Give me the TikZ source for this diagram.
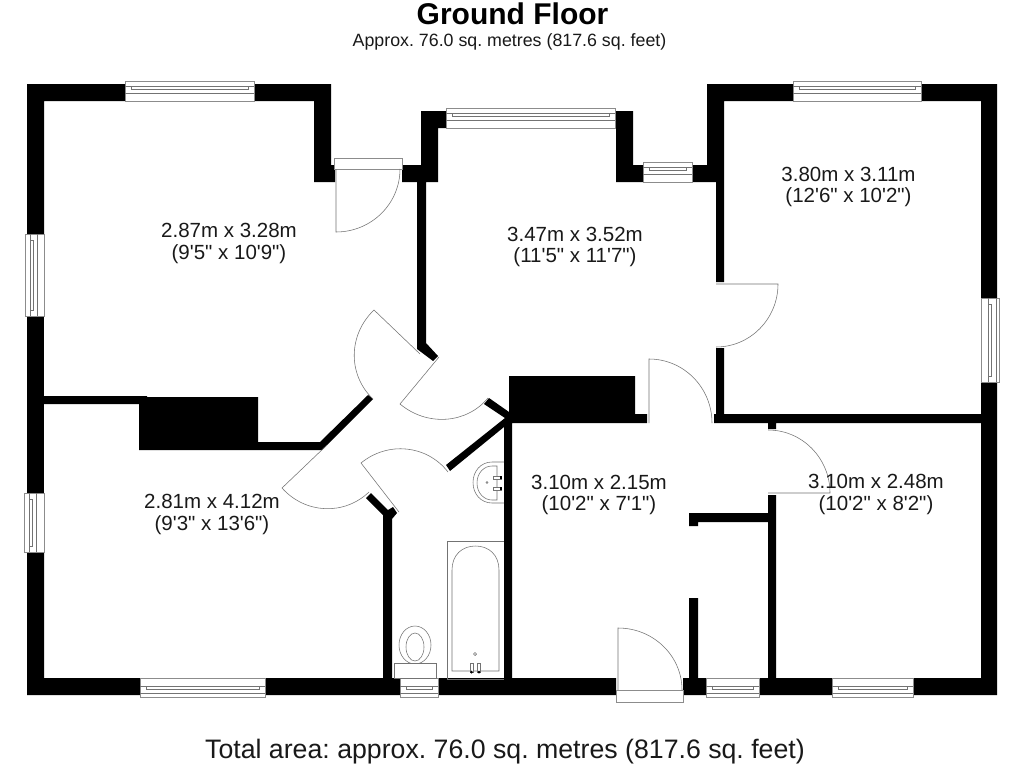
\documentclass[tikz,border=0pt]{standalone}
\usepackage{fontspec}
\setmainfont[Ligatures=TeXOff]{Liberation Sans}
\usetikzlibrary{calc}
\tikzset{
  wall/.style={fill=black,draw=none},
  thin line/.style={draw=black!55,line width=0.55pt},
  frame line/.style={draw=black!45,line width=0.7pt,fill=white},
  room/.style={align=center,inner sep=0pt,text=black!90,font=\frenchspacing\fontsize{20.5}{21.5}\selectfont},
}
% door: hinge, leaf end, closed end
\newcommand{\mydoor}[3]{%
  \draw[thin line] (#1) -- (#2) .. controls ($(#2)+0.5523*(#3)-0.5523*(#1)$) and ($(#3)+0.5523*(#2)-0.5523*(#1)$) .. (#3);}
% horizontal window: x1,x2,ytop,ybottom,line1,line2
\newcommand{\hwin}[6]{%
  \draw[frame line] (#1,#3) rectangle (#2,#4);
  \draw[thin line] (#1,#5) -- (#2,#5) (#1,#6) -- (#2,#6);
  \draw[thin line,fill=white] (#1+6,#5) rectangle (#2-6,{#5+(#6-#5)*0.45});
}
% vertical window: y1,y2,xleft,xright,line1,line2
\newcommand{\vwin}[6]{%
  \draw[frame line] (#3,#1) rectangle (#4,#2);
  \draw[thin line] (#5,#1) -- (#5,#2) (#6,#1) -- (#6,#2);
  \draw[thin line,fill=white] (#5,#1+6) rectangle ({#5+(#6-#5)*0.45},#2-6);
}
\begin{document}
\begin{tikzpicture}[x=1pt,y=-1pt]
\useasboundingbox[fill=white] (0,0) rectangle (1024,768);
% outer and interior walls
\fill[wall] (27,84)--(125,84)--(125,101)--(44,101)--(44,234)--(27,234)--cycle;
\fill[wall] (254,84)--(331,84)--(331,165)--(335,165)--(335,182)--(314,182)--(314,101)--(254,101)--cycle;
\fill[wall] (402,165)--(421,165)--(421,111)--(446,111)--(446,128)--(438,128)--(438,182)--(426,182)--(426,343)--(438,356)--(433,361)--(417,349)--(417,182)--(402,182)--cycle;
\fill[wall] (615,111)--(633,111)--(633,165)--(643,165)--(643,182)--(616,182)--(616,128)--(615,128)--cycle;
\fill[wall] (692,165)--(707,165)--(707,84)--(793,84)--(793,101)--(724,101)--(724,282)--(716,282)--(716,182)--(692,182)--cycle;
\fill[wall] (921,84)--(997,84)--(997,298)--(981,298)--(981,101)--(921,101)--cycle;
\fill[wall] (981,382)--(997,382)--(997,695)--(913,695)--(913,678)--(981,678)--cycle;
\fill[wall] (716,348)--(724,348)--(724,414)--(981,414)--(981,423)--(776,423)--(776,429)--(768,429)--(768,423)--(714,423)--(714,414)--(716,414)--cycle;
\fill[wall] (27,316) rectangle (44,493);
\fill[wall] (27,552)--(44,552)--(44,678)--(140,678)--(140,695)--(27,695)--cycle;
% chimney block, lower-left partition
\fill[wall] (44,396)--(147,396)--(147,397)--(258,397)--(258,442)--(320,442)--(368,395)--(373,399)--(322,450)--(139,450)--(139,404)--(44,404)--cycle;
% central block and bathroom wall
\fill[wall] (509,376)--(635,376)--(635,414)--(647,414)--(647,423)--(512,423)--(512,678)--(616,678)--(616,695)--(438,695)--(438,678)--(504,678)--(504,427)--(450,471)--(446,465)--(505,418)--(484,404)--(489,398)--(509,412)--cycle;
% hall wall by WC
\fill[wall] (366,498)--(371,493)--(388,510)--(393,507)--(397,513)--(392,519)--(392,678)--(400,678)--(400,695)--(265,695)--(265,678)--(383,678)--(383,515)--cycle;
% hall partitions
\fill[wall] (689,598)--(698,598)--(698,678)--(706,678)--(706,695)--(683,695)--(683,678)--(689,678)--cycle;
\fill[wall] (689,513)--(768,513)--(768,495)--(776,495)--(776,678)--(832,678)--(832,695)--(759,695)--(759,678)--(768,678)--(768,522)--(698,522)--(698,526)--(689,526)--cycle;
% windows
\hwin{125}{254}{81}{101}{86}{93}
\hwin{446}{615}{108}{128}{113}{120}
\hwin{643}{692}{162}{182}{167}{174}
\hwin{793}{921}{81}{101}{86}{93}
\hwin{140}{265}{678}{697}{686}{693}
\hwin{400}{438}{678}{697}{686}{693}
\hwin{706}{759}{678}{697}{686}{693}
\hwin{832}{913}{678}{697}{686}{693}
\vwin{234}{316}{25}{44}{30}{37}
\vwin{493}{552}{24}{44}{29}{36}
\vwin{298}{382}{981}{999}{988}{996}
% door frames
\draw[frame line] (334,158) rectangle (402,169);
\draw[frame line] (616,690) rectangle (683,702);
% doors
\mydoor{336,169}{336,232}{400,169}
\mydoor{716,284}{778,284}{716,347}
\mydoor{649,423}{649,359}{712,423}
\mydoor{768,493}{830,493}{768,430}
\mydoor{420,354}{374,310}{373,399}
\mydoor{439,357}{400,404}{488,398}
\mydoor{399,512}{361,463}{448,472}
\mydoor{327,445}{282,488}{369,492}
\mydoor{618,690}{618,628}{682,690}
% bath
\draw[thin line] (504,541)--(447,541)--(447,679)--(504,679);
\draw[thin line] (452,671)--(452,570) .. controls (452,555) and (462,546) .. (475.5,546) .. controls (489,546) and (499,555) .. (499,570) -- (499,671) -- cycle;
\draw[thin line,fill=white] (470,663) rectangle (473,672);
\draw[thin line,fill=white] (477,663) rectangle (480,672);
\fill (471.5,672) circle (1.5);
\fill (479,672) circle (1.5);
\draw[thin line] (475,654) circle (1.6);
% WC
\draw[thin line] (415,645) ellipse (16 and 19);
\draw[thin line] (415,647) ellipse (9 and 14);
\draw[thin line,fill=white] (394,663) rectangle (436,678);
% basin
\draw[thin line] (504,462)--(492,462) .. controls (481,462) and (473,471) .. (473,482.5) .. controls (473,494) and (481,503) .. (492,503) -- (504,503);
\draw[thin line] (497,466)--(492,466) .. controls (484,466) and (477,473) .. (477,483) .. controls (477,493) and (484,500) .. (492,500) -- (497,500) -- cycle;
\draw[thin line,fill=white] (493,476) rectangle (501,479);
\draw[thin line,fill=white] (493,487) rectangle (501,490);
\fill (500,476) rectangle (502,479);
\fill (500,487) rectangle (502,490);
\draw[thin line] (487,482.5) circle (1);
% texts
\node[font=\bfseries\fontsize{30}{32}\selectfont,inner sep=0pt] (title) at (512.5,14) {Ground Floor};
\node[font=\frenchspacing\fontsize{17.8}{19}\selectfont,inner sep=0pt,text=black!90] (sub) at (509.5,41.5) {Approx. 76.0 sq. metres (817.6 sq. feet)};
\node[font=\frenchspacing\fontsize{26.7}{28}\selectfont,inner sep=0pt,text=black!90] (total) at (505,751.5) {Total area: approx. 76.0 sq. metres (817.6 sq. feet)};
\node[room] (r1) at (229,243.5) {2.87m x 3.28m\\(9'5" x 10'9")};
\node[room] (r2) at (575,247) {3.47m x 3.52m\\(11'5" x 11'7")};
\node[room] (r3) at (848.5,187) {3.80m x 3.11m\\(12'6" x 10'2")};
\node[room] (r4) at (212,514.5) {2.81m x 4.12m\\(9'3" x 13'6")};
\node[room] (r5) at (599,495) {3.10m x 2.15m\\(10'2" x 7'1")};
\node[room] (r6) at (876,494.5) {3.10m x 2.48m\\(10'2" x 8'2")};
\end{tikzpicture}
\end{document}
